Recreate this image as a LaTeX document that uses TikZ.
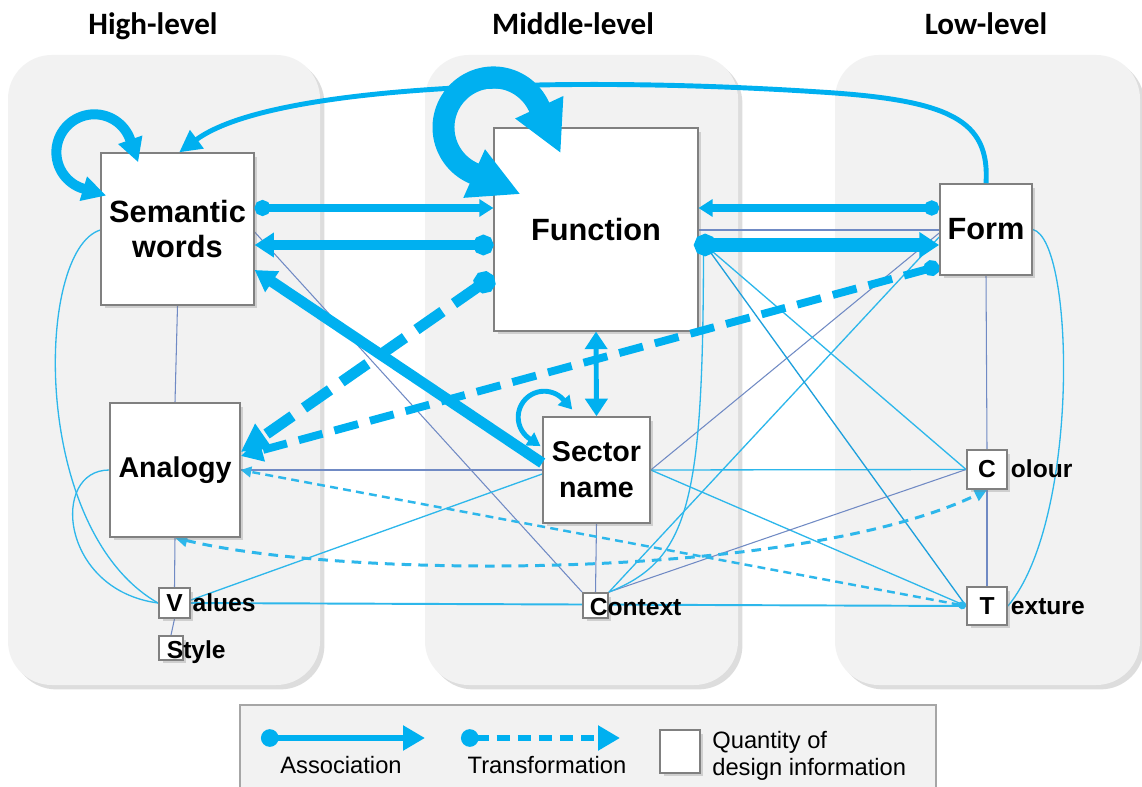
\documentclass[tikz,border=0pt]{standalone}
\usepackage{fontspec}
\setmainfont{Liberation Sans}
\newfontfamily\hdrfont{Carlito}
\usetikzlibrary{arrows.meta,shadows,calc}
\pgfdeclarelayer{bg}
\pgfdeclarelayer{thin}
\pgfdeclarelayer{front}
\pgfsetlayers{bg,thin,main,front}
\definecolor{cy}{RGB}{0,176,240}
\definecolor{cyt}{RGB}{45,183,235}
\definecolor{cyd}{RGB}{30,160,220}
\definecolor{slate}{RGB}{112,138,196}
\definecolor{pan}{RGB}{242,242,242}
\definecolor{bord}{RGB}{128,128,128}
\begin{document}
\begin{tikzpicture}[x=0.02cm,y=-0.02cm,
  panel/.style={fill=pan, draw=none, rounded corners=25pt,
    drop shadow={shadow xshift=2.5pt, shadow yshift=-2.5pt, opacity=0.22, fill=black!60}},
  legbox/.style={fill=pan, draw=black!35, line width=0.8pt},
  dbox/.style={draw=bord, line width=1.1pt, fill=white, inner sep=0pt,
    drop shadow={shadow xshift=2pt, shadow yshift=-2pt, opacity=0.3, fill=black!50}},
  bigtxt/.style={font=\fontsize{17.5}{20.4}\selectfont\bfseries, align=center},
  midtxt/.style={font=\fontsize{16.3}{20.4}\selectfont\bfseries, align=center},
  smtxt/.style={font=\fontsize{14}{16}\selectfont\bfseries, inner sep=0pt},
  hdr/.style={font=\hdrfont\bfseries\fontsize{17.7}{20}\selectfont, anchor=base, inner sep=0pt},
  legtxt/.style={font=\fontsize{13.5}{15}\selectfont, inner sep=0pt},
  tline/.style={draw=cyt, line width=0.75pt},
  tlined/.style={draw=cyd, line width=0.75pt},
  tlinew/.style={draw=cyt, line width=1.1pt},
  sline/.style={draw=slate, line width=0.6pt},
  tdash/.style={draw=cyt, line width=1.4pt, dash pattern=on 4.5pt off 3pt},
  tdashb/.style={draw=cyt, line width=1.7pt, dash pattern=on 5.5pt off 4pt},
  big/.style={draw=cy}
]
\useasboundingbox (0,0) rectangle (1142,787);

\begin{pgfonlayer}{bg}
\fill[white] (0,0) rectangle (1142,787);
\path[panel] (8,55) rectangle (320,685);
\path[panel] (425,55) rectangle (738,685);
\path[panel] (835,55) rectangle (1140,685);
\path[legbox] (240,705) rectangle (936,800);
\end{pgfonlayer}

% headers
\node[hdr] (hH) at (153,35) {High-level};
\node[hdr] (hM) at (573,35) {Middle-level};
\node[hdr] (hL) at (986,35) {Low-level};

% boxes
\node[dbox, bigtxt, minimum width=86.7pt, minimum height=86.2pt] (sw) at (177.5,229) {Semantic\\words};
\node[dbox, bigtxt, minimum width=115.6pt, minimum height=115.1pt] (fn) at (596,229.5) {Function};
\node[dbox, bigtxt, minimum width=52.2pt, minimum height=51.6pt] (form) at (986,229.5) {Form};
\node[dbox, midtxt, minimum width=73.7pt, minimum height=76pt] (an) at (175,470) {Analogy};
\node[dbox, midtxt, minimum width=60.7pt, minimum height=60.1pt] (sec) at (596.5,470) {Sector\\name};
\node[dbox, smtxt, minimum width=22.7pt, minimum height=22.1pt] (col) at (987,469.5) {C};
\node[dbox, smtxt, minimum width=22.7pt, minimum height=21.5pt] (tex) at (987,606) {T};
\node[dbox, smtxt, minimum width=17.6pt, minimum height=17pt] (val) at (174.5,603) {V};
\node[dbox, minimum width=13.6pt, minimum height=13.6pt] (sty) at (171,648) {};
\node[dbox, minimum width=14.2pt, minimum height=14.2pt] (ctx) at (595.5,605.5) {};
\node[smtxt, anchor=base west] (coll) at ([xshift=1.5pt]col.base east) {olour};
\node[smtxt, anchor=base west] (texl) at ([xshift=1.5pt]tex.base east) {exture};
\node[smtxt, anchor=base west] (vall) at ([xshift=0.8pt]val.base east) {alues};
\node[smtxt, anchor=base west] (ctxl) at (589.5,615) {Context};
\node[smtxt, anchor=base west] (styl) at (166.5,658) {Style};

% thin connectors
\begin{pgfonlayer}{thin}
\coordinate (fnd) at ([shift={(7,16)}]fn.east);
\coordinate (fnv) at ([shift={(5,21)}]fn.east);
\draw[tline] (sw.west |- 0,230) .. controls (35,250) and (30,530) .. (val.west);
\draw[tline] (an.west) .. controls (50,470) and (60,590) .. (val.west);
\draw[sline] (sw.south) -- (an.north);
\draw[sline] (an.south) -- (val.north);
\draw[sline] (val.south) -- (sty.north);
\draw[sline] (sw.east |- 0,232) -- (ctx.north west);
\draw[tline] (val.east |- 0,600) -- (sec.west |- 0,474);
\draw[tlinew] (val.east) -- (tex.west);
\draw[sline] (sec.west) -- (an.east);
\draw[tline] (sec.east) -- (col.west);
\draw[sline] (sec.east) -- (form.west |- 0,233);
\draw[tline] (sec.east) -- (tex.west);
\draw[sline] (sec.south) -- (ctx.north);
\draw[sline] (fn.east |- 0,230) -- (form.west |- 0,230);
\draw[tline] (ctx.north east) -- (form.west |- 0,237);
\draw[sline] (ctx.north east) -- (col.west);
\draw[tline] (ctx.north east) .. controls (690,560) and (703,500) .. (fnv);
\draw[tline] (fnd) -- (col.west);
\draw[tlined] (fnd) -- (tex.west);
\draw[tline] (form.east) .. controls (1075,240) and (1080,520) .. (tex.east);
\draw[sline] (form.south) -- (col.north);
\draw[sline] (col.south) -- (tex.north);
\draw[tdash, {Circle[length=4.5pt]}-{Triangle[length=6pt,width=6pt]}] (tex.west) -- (an.east);
\draw[tdashb, {Triangle[length=7pt,width=7pt]}-{Triangle[length=7pt,width=7pt]}] (an.south) .. controls (350,580) and (800,580) .. (col.south);
\end{pgfonlayer}

% thick connectors
\begin{pgfonlayer}{front}
\draw[big, line width=4pt, {Circle[length=9pt]}-{Triangle[length=8pt,width=9.5pt]}] (sw.east |- 0,208) -- (fn.west |- 0,208);
\draw[big, line width=6.2pt, {Circle[length=11.5pt]}-{Triangle[length=11pt,width=13.5pt]}] (fn.west |- 0,245) -- (sw.east |- 0,245);
\draw[big, line width=4pt, {Circle[length=8.5pt]}-{Triangle[length=8pt,width=9.6pt]}] (form.west |- 0,208) -- (fn.east |- 0,208);
\draw[big, line width=7.4pt, {Circle[length=12.5pt]}-{Triangle[length=11.3pt,width=14pt]}] ([xshift=-2.5pt]fn.east |- 0,245) -- (form.west |- 0,245);
\draw[big, line width=6.2pt, -{Triangle[length=12pt,width=13.5pt]}] (sec.west |- 0,463) -- (sw.east |- 0,270);
\draw[big, line width=6.2pt, dash pattern=on 18pt off 8pt, {Circle[length=12.5pt]}-{Triangle[length=16pt,width=16pt]}] (fn.west |- 0,276) -- (an.east |- 0,452);
\draw[big, line width=4.5pt, dash pattern=on 14pt off 7pt, {Circle[length=9pt]}-{Triangle[length=12.5pt,width=12.5pt]}] (form.west |- 0,266) -- (an.east |- 0,456);
\draw[big, line width=2.8pt, {Triangle[length=10pt,width=12.5pt]}-{Triangle[length=10pt,width=12.5pt]}] (fn.south) -- (sec.north);
\draw[big, line width=2.8pt, -{Triangle[length=12.5pt,width=12.5pt]}] (form.north) .. controls (990,120) and (950,100) .. (820,92) .. controls (560,75) and (270,85) .. ([xshift=1pt]sw.north);
% self loops
\draw[big, line width=5.7pt, {Triangle[length=13.6pt,width=13.6pt]}-{Triangle[length=13.6pt,width=13.6pt]}, shift={(sw.north west)}]
  (5.8,43.3) -- plot[domain=107:340.6,samples=50] ({-6+38*cos(\x)},{38*sin(\x)}) -- (37.8,10.0);
\draw[big, line width=12.5pt, {Triangle[length=29pt,width=28pt]}-{Triangle[length=29pt,width=28pt]}, shift={(fn.north west)}]
  (27.2,66.9) -- plot[domain=114:335,samples=60] ({50*cos(\x)},{50*sin(\x)}) -- (67.3,26.0);
\draw[big, line width=2.8pt, {Triangle[length=7.4pt,width=8.5pt]}-{Triangle[length=7.4pt,width=8.5pt]}, shift={(sec.north west)}]
  (-1.7,29.9) -- plot[domain=124:318,samples=40] ({2+26*cos(\x)},{1+26*sin(\x)}) -- (30,-6.7);
\end{pgfonlayer}

% legend
\coordinate (la1) at (261,738);
\coordinate (la2) at (425,738);
\coordinate (lt1) at (461,738);
\coordinate (lt2) at (620,738);
\draw[big, line width=3.4pt, {Circle[length=10pt]}-{Triangle[length=12.5pt,width=13.6pt]}] (la1) -- (la2);
\draw[big, line width=3.4pt, dash pattern=on 7.5pt off 4.5pt, {Circle[length=10pt]}-{Triangle[length=12.5pt,width=13.6pt]}] (lt1) -- (lt2);
\node[legtxt, anchor=base] (lat) at (341,773) {Association};
\node[legtxt, anchor=base] (ltt) at (547,773) {Transformation};
\node[dbox, minimum width=22.7pt, minimum height=24.4pt] (lq) at (680,751.5) {};
\node[legtxt, anchor=base west] (lq1) at (712,748) {Quantity of};
\node[legtxt, anchor=base west] (lq2) at (712,775) {design information};
\end{tikzpicture}
\end{document}
